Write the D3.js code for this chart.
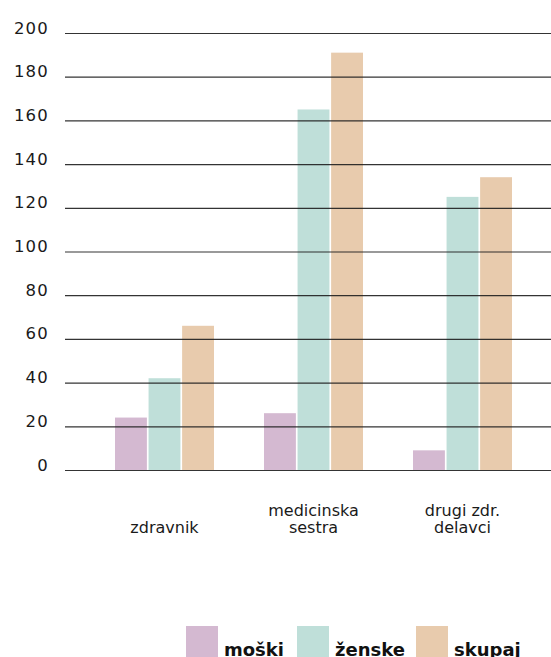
<!DOCTYPE html>
<html>
<head>
<meta charset="utf-8">
<script src="https://cdn.jsdelivr.net/npm/d3@7"></script>
<style>
  body { margin: 0; background: #fff; }
  text { font-family: "DejaVu Sans", "Liberation Sans", Arial, sans-serif; }
</style>
</head>
<body>
<div id="chart"></div>
<script>
// data
const categories = [["zdravnik"], ["medicinska", "sestra"], ["drugi zdr.", "delavci"]];
const series = ["moški", "ženske", "skupaj"];
const moski = [24, 26, 9];
const zenske = [42, 165, 125];
const skupaj = [66, 191, 134];
const yTicks = [0, 20, 40, 60, 80, 100, 120, 140, 160, 180, 200];

const colors = ["#d4b9d1", "#bfdfd9", "#e8cbad"];

const width = 551, height = 657;

const svg = d3.select("#chart").append("svg")
    .attr("width", width)
    .attr("height", height);

const values = [moski, zenske, skupaj];
const rows = categories.map((c, i) => ({cat: c, vals: values.map(v => v[i])}));

// scales
const x = d3.scaleBand()
    .domain(d3.range(categories.length))
    .range([90, 537]);

const xs = d3.scaleBand()
    .domain(d3.range(series.length))
    .range([0, 99])
    .paddingInner(0.05);

const y = d3.scaleLinear()
    .domain([0, 200])
    .range([470, 33]);

// bars
const grp = svg.append("g").selectAll("g")
  .data(rows)
  .enter().append("g")
    .attr("transform", (d, i) => `translate(${x(i) + x.bandwidth() / 2 - 49.5},0)`);

grp.selectAll("rect")
  .data(d => d.vals)
  .enter().append("rect")
    .attr("x", (d, i) => xs(i))
    .attr("y", d => y(d))
    .attr("width", xs.bandwidth())
    .attr("height", d => y(0) - y(d))
    .attr("fill", (d, i) => colors[i]);

// grid lines over the bars
const yAxis = svg.append("g")
    .attr("transform", "translate(65,0)")
    .call(d3.axisRight(y).tickValues(yTicks).tickSize(width - 65).tickFormat(""));
yAxis.select(".domain").remove();
yAxis.selectAll(".tick line")
    .attr("stroke", "#1e1e1e")
    .attr("stroke-width", 1.2)
    .attr("stroke-opacity", 0.9);

// tick labels
svg.append("g").selectAll("text")
  .data(yTicks)
  .enter().append("text")
    .attr("x", 49)
    .attr("y", d => y(d) + 0.5)
    .attr("text-anchor", "end")
    .attr("font-size", "16.5px")
    .attr("letter-spacing", "1.2px")
    .attr("fill", "#1a1a1a")
    .text(d => d);

// category labels (bottom aligned, one text per line)
const lines = [];
rows.forEach((r, i) => r.cat.forEach((t, j) => lines.push({i: i, t: t, k: r.cat.length - 1 - j})));
svg.append("g").selectAll("text")
  .data(lines)
  .enter().append("text")
    .attr("x", d => x(d.i) + x.bandwidth() / 2)
    .attr("y", d => 532.5 - d.k * 17)
    .attr("text-anchor", "middle")
    .attr("font-size", "16px")
    .attr("fill", "#1a1a1a")
    .text(d => d.t);

// legend
const legX = [186, 297, 416];
const leg = svg.append("g").selectAll("g")
  .data(series)
  .enter().append("g")
    .attr("transform", (d, i) => `translate(${legX[i]},626)`);
leg.append("rect")
    .attr("width", 32)
    .attr("height", 32)
    .attr("fill", (d, i) => colors[i]);
leg.append("text")
    .attr("x", 38)
    .attr("y", 30)
    .attr("font-size", "18px")
    .attr("font-weight", "bold")
    .attr("fill", "#111")
    .text(d => d);
</script>
</body>
</html>
